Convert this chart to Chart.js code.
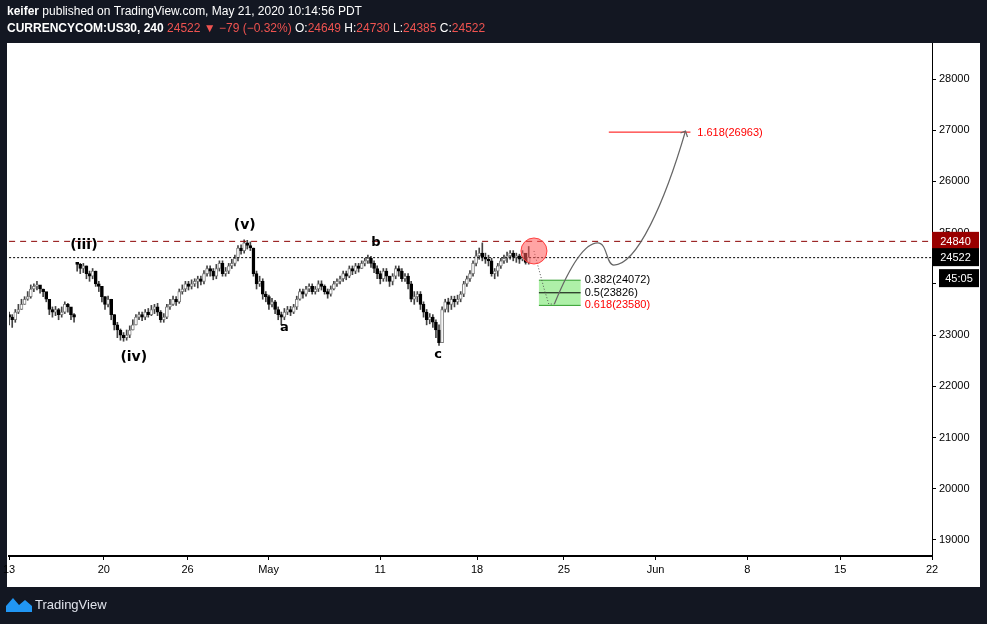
<!DOCTYPE html>
<html>
<head>
<meta charset="utf-8">
<style>
  html, body { margin: 0; padding: 0; background: #131722; }
  #wrap { width: 987px; height: 624px; }
</style>
<script src="https://cdn.jsdelivr.net/npm/chart.js@4.4.1/dist/chart.umd.min.js"></script>
</head>
<body>
<div id="wrap"><canvas id="c" width="987" height="624"></canvas></div>
<script>
// 4h closes, one per bar, from Apr 13 onward
const closes = [
  23350,23300,23450,23500,23600,23700,23750,23900,23950,23980,23900,23850,23700,23500,23450,23500,23400,23450,23600,23550,23400,23350,
  24380,24300,24350,24200,24150,24250,24000,23950,23750,23600,23700,23400,23200,23100,23000,22950,
  23000,23100,23200,23350,23400,23350,23450,23400,23500,23550,23450,23300,23350,23550,23600,23700,23650,23850,23900,24000,23950,24000,24050,24100,24050,24200,24300,24250,24150,24300,24400,
  24200,24250,24350,24400,24500,24700,24650,24800,24750,24700,
  24200,24000,24050,23800,23750,23600,23650,23500,23400,23350,
  23450,23500,23450,23550,23700,23850,23800,23900,23950,23850,23900,24000,23950,23850,23800,23900,24000,24050,24100,24200,24150,24300,24250,24350,24300,24400,24450,24500,24400,24300,
  24200,24100,24250,24150,24050,24150,24300,24250,24100,24150,24000,23700,23750,23800,
  23600,23450,23300,23350,23250,23100,22850,
  23500,23650,23600,23700,23650,23700,23800,24000,24100,24200,24400,
  24550,24600,24520,24480,24450,24200,24250,24350,24450,24500,24550,24600,24520,24550,24480,24600,24420,24522
];
const highs = [
  23450,23400,23500,23600,23700,23750,23850,23980,24000,24050,23960,23900,23800,23600,23550,23560,23520,23550,23650,23620,23520,23420,
  24420,24400,24400,24350,24250,24300,24250,24050,23950,23750,23760,23700,23400,23250,23120,23050,
  23100,23180,23300,23400,23450,23450,23500,23520,23580,23600,23620,23480,23420,23600,23700,23760,23750,23900,23980,24050,24050,24080,24100,24150,24150,24260,24350,24350,24300,24380,24450,
  24450,24320,24400,24480,24560,24750,24760,24860,24850,24820,
  24700,24250,24150,24100,23850,23780,23720,23680,23550,23450,
  23520,23560,23560,23600,23760,23900,23900,23950,24000,24000,23950,24060,24060,23980,23900,23960,24050,24100,24150,24250,24250,24350,24350,24400,24400,24450,24500,24560,24540,24450,
  24350,24250,24300,24300,24150,24200,24350,24350,24300,24200,24200,24050,23850,23850,
  23850,23650,23500,23420,23400,23300,23200,
  23550,23700,23720,23760,23760,23780,23850,24050,24150,24260,24450,
  24650,24700,24800,24600,24560,24500,24300,24400,24500,24560,24620,24650,24650,24600,24580,24650,24500,24730
];
const lows = [
  23200,23150,23250,23420,23500,23600,23680,23720,23850,23880,23820,23750,23650,23400,23350,23380,23300,23350,23420,23450,23300,23250,
  24250,24200,24220,24100,24050,24100,23950,23850,23650,23500,23550,23300,23100,22950,22900,22880,
  22900,22950,23100,23200,23300,23280,23300,23350,23380,23420,23380,23250,23250,23320,23500,23580,23580,23620,23800,23850,23880,23900,23950,23920,23980,24000,24150,24150,24080,24100,24250,
  24150,24150,24200,24300,24350,24450,24580,24600,24680,24650,
  24150,23900,23950,23700,23650,23500,23550,23420,23300,23200,
  23300,23400,23380,23420,23500,23680,23720,23760,23850,23800,23800,23850,23880,23800,23720,23760,23880,23950,24000,24050,24080,24120,24180,24200,24230,24300,24350,24400,24320,24220,
  24100,24000,24050,24050,23950,23980,24100,24150,24050,24050,23900,23650,23600,23650,
  23500,23350,23200,23220,23150,22950,22800,
  22950,23450,23450,23500,23550,23600,23650,23750,23950,24050,24150,
  24350,24480,24450,24400,24350,24150,24100,24150,24300,24400,24420,24480,24450,24420,24400,24450,24385,24385
];
const gapOpens = { 0: 23400, 22: 24420 };   // bar index -> open after a weekend gap

const yTicks = [19000, 20000, 21000, 22000, 23000, 24000, 25000, 26000, 27000, 28000];
const xTickPos = [0, 30.6, 57.7, 83.9, 120, 151.3, 179.4, 209, 238.7, 268.7, 298.4];
const xTickLabels = ['13', '20', '26', 'May', '11', '18', '25', 'Jun', '8', '15', '22'];

const resistance = 24840;
const lastPrice = 24522;
const fibTarget = 26963;
const fibLevels = [24072, 23826, 23580];

// build candles
const opens = closes.map((c, i) => gapOpens[i] !== undefined ? gapOpens[i] : closes[i - 1]);
const bodies = closes.map((c, i) => ({ x: i, y: [opens[i], c] }));
const wicks = closes.map((c, i) => ({ x: i, y: [lows[i], highs[i]] }));
const isUp = closes.map((c, i) => c >= opens[i]);

const decor = {
  id: 'decor',
  beforeDraw(chart) {
    const ctx = chart.ctx;
    ctx.save();
    ctx.fillStyle = '#131722';
    ctx.fillRect(0, 0, 987, 624);
    ctx.fillStyle = '#ffffff';
    ctx.fillRect(7, 43, 973, 544);
    ctx.restore();
  },
  afterDatasetsDraw(chart) {
    const ctx = chart.ctx;
    const xs = chart.scales.x, ys = chart.scales.y;
    const a = chart.chartArea;
    const X = v => xs.getPixelForValue(v), Y = v => ys.getPixelForValue(v);
    ctx.save();
    ctx.beginPath(); ctx.rect(a.left, a.top, a.right - a.left, a.bottom - a.top); ctx.clip();

    // horizontal levels
    ctx.lineWidth = 1;
    ctx.strokeStyle = '#8b0000'; ctx.setLineDash([6, 5]);
    ctx.beginPath(); ctx.moveTo(a.left, Y(resistance) + .5); ctx.lineTo(a.right, Y(resistance) + .5); ctx.stroke();
    ctx.strokeStyle = '#000'; ctx.setLineDash([2, 2]);
    ctx.beginPath(); ctx.moveTo(a.left, Y(lastPrice) + .5); ctx.lineTo(a.right, Y(lastPrice) + .5); ctx.stroke();
    ctx.setLineDash([]);

    // fib target
    ctx.strokeStyle = '#ff0000';
    ctx.beginPath(); ctx.moveTo(X(193.9), Y(fibTarget)); ctx.lineTo(X(220.3), Y(fibTarget)); ctx.stroke();
    ctx.font = '11px "Liberation Sans", Arial, sans-serif';
    ctx.fillStyle = '#ff0000'; ctx.textBaseline = 'middle';
    ctx.fillText('1.618(' + fibTarget + ')', X(222.5), Y(fibTarget) + 1);

    // retracement box
    const bx1 = X(171.3), bx2 = X(184.8);
    ctx.fillStyle = 'rgba(120,230,110,0.6)';
    ctx.fillRect(bx1, Y(fibLevels[0]), bx2 - bx1, Y(fibLevels[2]) - Y(fibLevels[0]));
    fibLevels.forEach((l, k) => {
      ctx.strokeStyle = k === 1 ? '#000' : '#2e9c2a';
      ctx.beginPath(); ctx.moveTo(bx1, Y(l)); ctx.lineTo(bx2, Y(l)); ctx.stroke();
    });
    ctx.fillStyle = '#000';
    ctx.fillText('0.382(' + fibLevels[0] + ')', bx2 + 4, Y(fibLevels[0]));
    ctx.fillText('0.5(' + fibLevels[1] + ')', bx2 + 4, Y(fibLevels[1]));
    ctx.fillStyle = '#ff0000';
    ctx.fillText('0.618(' + fibLevels[2] + ')', bx2 + 4, Y(fibLevels[2]));

    // projected path
    ctx.strokeStyle = '#555'; ctx.setLineDash([1, 2]);
    ctx.beginPath(); ctx.moveTo(X(169.7), Y(24642)); ctx.lineTo(X(173), Y(23900)); ctx.lineTo(X(174.5), Y(23607)); ctx.lineTo(X(176.3), Y(23607)); ctx.stroke();
    ctx.setLineDash([]);
    ctx.strokeStyle = '#666'; ctx.lineWidth = 1.2;
    ctx.beginPath();
    ctx.moveTo(X(176.3), Y(23607));
    ctx.bezierCurveTo(X(181), Y(24300), X(186), Y(24800), X(190.3), Y(24800));
    ctx.bezierCurveTo(X(193.5), Y(24800), X(193), Y(24368), X(195.5), Y(24368));
    ctx.bezierCurveTo(X(203), Y(24368), X(212), Y(25600), X(218.7), Y(26985));
    ctx.stroke();
    const tx = X(218.7), ty = Y(26985);
    ctx.beginPath(); ctx.moveTo(tx - 5, ty + 2); ctx.lineTo(tx, ty); ctx.lineTo(tx + 2, ty + 6); ctx.stroke();

    // red circle
    ctx.fillStyle = 'rgba(255,90,90,0.55)'; ctx.strokeStyle = '#ff4040'; ctx.lineWidth = 1;
    ctx.beginPath(); ctx.arc(X(169.7), Y(24642), 13, 0, Math.PI * 2); ctx.fill(); ctx.stroke();

    // wave labels
    ctx.fillStyle = '#000'; ctx.textAlign = 'center';
    ctx.font = 'bold 14px "DejaVu Sans", sans-serif';
    ctx.fillText('(iii)', X(24.2), Y(24750));
    ctx.fillText('(iv)', X(40.3), Y(22570));
    ctx.fillText('(v)', X(76.2), Y(25150));
    ctx.font = 'bold 13px "DejaVu Sans", sans-serif';
    ctx.fillText('a', X(89), Y(23150));
    ctx.fillText('b', X(118.6), Y(24800));
    ctx.fillText('c', X(138.7), Y(22620));
    ctx.restore();

    // axis price tags
    ctx.save();
    ctx.font = '11px "Liberation Sans", Arial, sans-serif';
    ctx.textBaseline = 'middle'; ctx.textAlign = 'left';
    const tag = (text, bg, y0, x0, w) => {
      ctx.fillStyle = bg; ctx.fillRect(x0, y0 - 9, w, 18);
      ctx.fillStyle = '#fff'; ctx.fillText(text, x0 + (w - ctx.measureText(text).width) / 2, y0 + 1);
    };
    tag(String(resistance), '#990000', Y(resistance), 932, 47);
    tag(String(lastPrice), '#000', Y(lastPrice), 932, 47);
    tag('45:05', '#000', Y(lastPrice) + 21, 939, 40);
    ctx.restore();

    // header and footer
    ctx.save();
    ctx.textBaseline = 'middle';
    ctx.font = 'bold 12px "Liberation Sans", Arial, sans-serif';
    ctx.fillStyle = '#fff';
    ctx.fillText('keifer', 7, 12);
    const w = ctx.measureText('keifer').width;
    ctx.font = '12px "Liberation Sans", Arial, sans-serif';
    ctx.fillText(' published on TradingView.com, May 21, 2020 10:14:56 PDT', 7 + w, 12);
    let x = 7;
    const seg = (t, col) => { ctx.fillStyle = col; ctx.fillText(t, x, 29); x += ctx.measureText(t).width; };
    ctx.font = 'bold 12px "Liberation Sans", Arial, sans-serif';
    seg('CURRENCYCOM:US30, 240 ', '#fff');
    ctx.font = '12px "Liberation Sans", Arial, sans-serif';
    seg('24522 ', '#ef5350'); seg('\u25BC ', '#ef5350'); seg('\u221279 (\u22120.32%) ', '#ef5350');
    seg('O:', '#fff'); seg('24649 ', '#ef5350'); seg('H:', '#fff'); seg('24730 ', '#ef5350');
    seg('L:', '#fff'); seg('24385 ', '#ef5350'); seg('C:', '#fff'); seg('24522', '#ef5350');
    // logo
    ctx.fillStyle = '#2196f3';
    ctx.beginPath();
    ctx.moveTo(6, 612); ctx.lineTo(6, 606); ctx.lineTo(13, 598); ctx.lineTo(19, 605); ctx.lineTo(25, 600); ctx.lineTo(32, 606); ctx.lineTo(32, 612); ctx.closePath(); ctx.fill();
    ctx.font = '13px "Liberation Sans", Arial, sans-serif';
    ctx.fillStyle = '#e0e3eb';
    ctx.fillText('TradingView', 35, 605);
    ctx.restore();
  }
};

new Chart(document.getElementById('c'), {
  type: 'bar',
  data: {
    datasets: [
      { data: wicks, backgroundColor: '#444', barThickness: 1, grouped: false, order: 2 },
      { data: bodies, backgroundColor: isUp.map(u => u ? '#ffffff' : '#000000'),
        borderColor: isUp.map(u => u ? '#808080' : '#000'), borderWidth: 1, borderSkipped: false,
        barThickness: 3, grouped: false, order: 1 }
    ]
  },
  options: {
    responsive: false, animation: false,
    layout: { padding: { left: 7, top: 43, right: 7, bottom: 37 } },
    plugins: { legend: { display: false }, tooltip: { enabled: false } },
    scales: {
      x: {
        type: 'linear', min: 0, max: 298.4, offset: false,
        afterFit: s => { s.height = 31; },
        afterBuildTicks: s => { s.ticks = xTickPos.map(v => ({ value: v })); },
        grid: { drawOnChartArea: false, color: '#000', tickLength: 4, offset: false },
        border: { color: '#000', width: 2 },
        ticks: {
          color: '#000', font: { size: 11, family: '"Liberation Sans", Arial' }, maxRotation: 0, autoSkip: false,
          callback: (v, i) => xTickLabels[i]
        }
      },
      y: {
        position: 'right', min: 18687, max: 28703,
        afterFit: s => { s.width = 48; },
        afterBuildTicks: s => { s.ticks = yTicks.map(v => ({ value: v })); },
        grid: { drawOnChartArea: false, color: '#000', tickLength: 4 },
        border: { color: '#000', width: 1 },
        ticks: { color: '#000', font: { size: 11, family: '"Liberation Sans", Arial' }, padding: 3, callback: v => String(v) }
      }
    }
  },
  plugins: [decor]
});
</script>
</body>
</html>
